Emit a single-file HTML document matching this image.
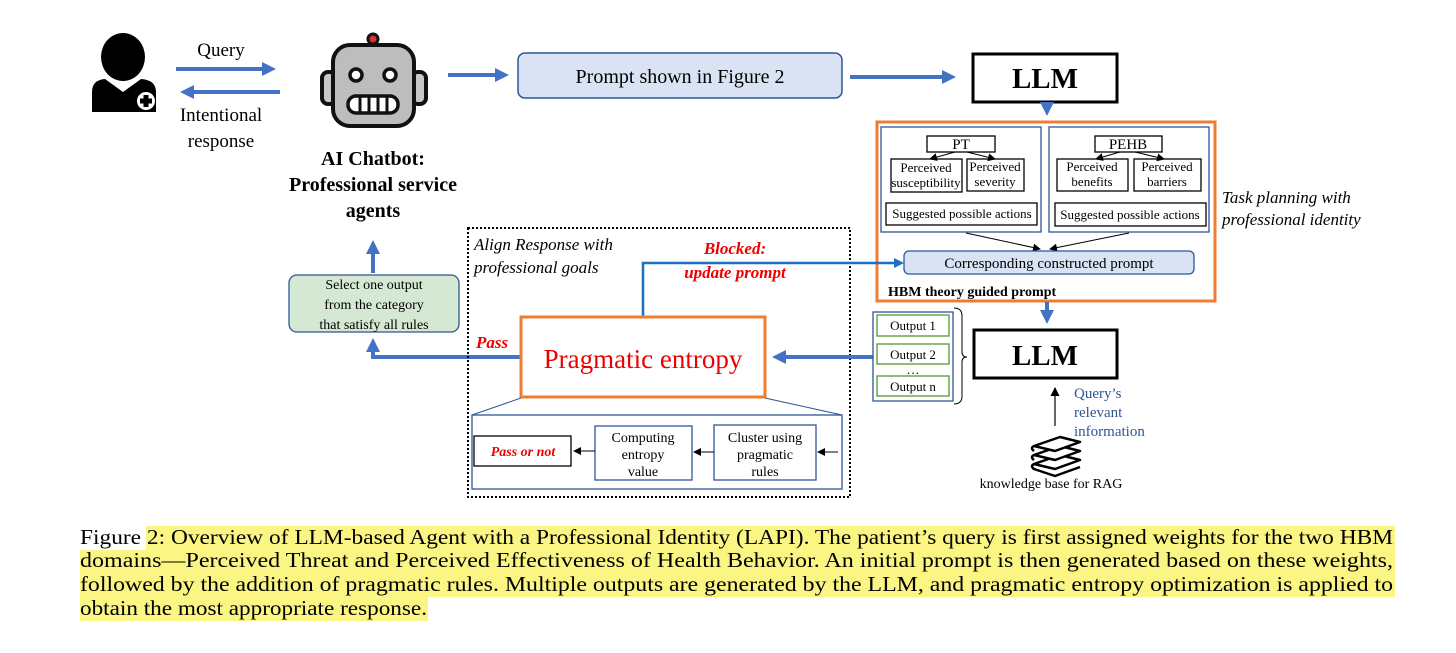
<!DOCTYPE html>
<html><head><meta charset="utf-8"><style>
html,body{margin:0;padding:0;background:#fff;}
svg{display:block;font-family:"Liberation Serif","Times New Roman",Times,serif;}
svg text{font-family:"Liberation Serif","Times New Roman",Times,serif;}
</style></head><body>
<svg width="1456" height="653" viewBox="0 0 1456 653" xmlns="http://www.w3.org/2000/svg" font-family="Liberation Serif, Times New Roman, serif">
<defs>
<marker id="bh" markerWidth="3.5" markerHeight="3.5" refX="2.5" refY="1.75" orient="auto" markerUnits="strokeWidth"><path d="M0,0 L3.5,1.75 L0,3.5 z" fill="#4472c4"/></marker>
<marker id="kh" markerWidth="8" markerHeight="8" refX="7" refY="4" orient="auto" markerUnits="userSpaceOnUse"><path d="M0,0 L8,4 L0,8 z" fill="#000"/></marker>
<marker id="gh" markerWidth="9" markerHeight="9" refX="8" refY="4.5" orient="auto" markerUnits="userSpaceOnUse"><path d="M0,0 L9,4.5 L0,9 z" fill="#000"/></marker>
</defs>

<!-- person -->
<g fill="#000">
<ellipse cx="123" cy="57" rx="22" ry="24"/>
<path d="M92,112 L92,92 Q92,80 105,79 L123,92 L141,79 Q156,80 156,92 L156,112 Z"/>
<circle cx="146" cy="101" r="9" fill="#fff"/>
<rect x="143.5" y="95" width="5" height="12" fill="#000"/><rect x="140" y="98.5" width="12" height="5" fill="#000"/>
</g>
<text x="221" y="56" font-size="19" text-anchor="middle">Query</text>
<line x1="176" y1="69" x2="272" y2="69" stroke="#4472c4" stroke-width="4" marker-end="url(#bh)"/>
<line x1="280" y1="92" x2="184" y2="92" stroke="#4472c4" stroke-width="4" marker-end="url(#bh)"/>
<text x="221" y="121" font-size="19" text-anchor="middle">Intentional</text>
<text x="221" y="147" font-size="19" text-anchor="middle">response</text>

<!-- robot -->
<g stroke="#111" stroke-width="4">
<circle cx="373" cy="39" r="5" fill="#d9342b" stroke-width="3"/>
<rect x="322" y="72" width="14" height="32" rx="6" fill="#c8c8c8"/>
<rect x="412" y="72" width="14" height="32" rx="6" fill="#c8c8c8"/>
<rect x="333" y="45" width="81" height="81" rx="17" fill="#bdbdbd"/>
<circle cx="356" cy="75" r="6" fill="#fff" stroke-width="3.5"/>
<circle cx="390" cy="75" r="6" fill="#fff" stroke-width="3.5"/>
<rect x="348" y="96" width="50" height="17" rx="8" fill="#fff" stroke-width="3.5"/>
</g>
<g stroke="#111" stroke-width="3"><line x1="360" y1="97" x2="360" y2="112"/><line x1="369" y1="97" x2="369" y2="112"/><line x1="378" y1="97" x2="378" y2="112"/><line x1="387" y1="97" x2="387" y2="112"/></g>
<text x="373" y="165" font-size="20" font-weight="bold" text-anchor="middle">AI Chatbot:</text>
<text x="373" y="191" font-size="20" font-weight="bold" text-anchor="middle">Professional service</text>
<text x="373" y="217" font-size="20" font-weight="bold" text-anchor="middle">agents</text>

<line x1="448" y1="75" x2="505" y2="75" stroke="#4472c4" stroke-width="4" marker-end="url(#bh)"/>
<rect x="518" y="53" width="324" height="45" rx="7" fill="#dae3f3" stroke="#2f5597" stroke-width="1.5"/>
<text x="680" y="83" font-size="20" text-anchor="middle">Prompt shown in Figure 2</text>
<line x1="850" y1="77" x2="952" y2="77" stroke="#4472c4" stroke-width="4" marker-end="url(#bh)"/>
<rect x="973" y="54" width="144" height="48" fill="#fff" stroke="#000" stroke-width="3"/>
<text x="1045" y="88" font-size="29" font-weight="bold" text-anchor="middle">LLM</text>
<line x1="1047" y1="103" x2="1047" y2="112" stroke="#4472c4" stroke-width="4" marker-end="url(#bh)"/>

<!-- HBM orange box -->
<rect x="877" y="122" width="338" height="179" fill="#fff" stroke="#ed7d31" stroke-width="3"/>
<rect x="881" y="127" width="160" height="105" fill="#fff" stroke="#2f5597" stroke-width="1.3"/>
<rect x="1049" y="127" width="160" height="105" fill="#fff" stroke="#2f5597" stroke-width="1.3"/>
<g fill="#fff" stroke="#000" stroke-width="1.3">
<rect x="927" y="136" width="68" height="16"/><rect x="891" y="159" width="71" height="33"/><rect x="967" y="159" width="57" height="32"/><rect x="886" y="203" width="151" height="22"/>
<rect x="1095" y="136" width="67" height="16"/><rect x="1057" y="159" width="71" height="32"/><rect x="1134" y="159" width="67" height="32"/><rect x="1055" y="203" width="151" height="23"/>
</g>
<g stroke="#000" stroke-width="1">
<line x1="955" y1="152" x2="930" y2="159" marker-end="url(#kh)"/><line x1="967" y1="152" x2="995" y2="159" marker-end="url(#kh)"/>
<line x1="1120" y1="152" x2="1096" y2="159" marker-end="url(#kh)"/><line x1="1135" y1="152" x2="1164" y2="159" marker-end="url(#kh)"/>
<line x1="966" y1="233" x2="1040" y2="249" marker-end="url(#kh)"/><line x1="1129" y1="233" x2="1050" y2="249" marker-end="url(#kh)"/>
</g>
<g font-size="13" text-anchor="middle">
<text x="961" y="149" font-size="15">PT</text><text x="1128" y="149" font-size="15">PEHB</text>
<text x="926" y="172">Perceived</text><text x="926" y="187">susceptibility</text>
<text x="995" y="171">Perceived</text><text x="995" y="186">severity</text>
<text x="1092" y="171">Perceived</text><text x="1092" y="186">benefits</text>
<text x="1167" y="171">Perceived</text><text x="1167" y="186">barriers</text>
<text x="962" y="218">Suggested  possible actions</text>
<text x="1130" y="219">Suggested  possible actions</text>
</g>
<rect x="904" y="251" width="290" height="23" rx="5" fill="#dae3f3" stroke="#2f5597" stroke-width="1.3"/>
<text x="1049" y="268" font-size="15" text-anchor="middle">Corresponding constructed prompt</text>
<text x="888" y="296" font-size="14" font-weight="bold">HBM theory guided prompt</text>
<text x="1222" y="203" font-size="17" font-style="italic">Task planning with</text>
<text x="1222" y="225" font-size="17" font-style="italic">professional identity</text>

<!-- select box -->
<rect x="289" y="275" width="170" height="57" rx="8" fill="#d5e8d4" stroke="#2f5597" stroke-width="1.3"/>
<g font-size="14" text-anchor="middle"><text x="374" y="289">Select one output</text><text x="374" y="309">from the category</text><text x="374" y="329">that satisfy all rules</text></g>
<line x1="373" y1="273" x2="373" y2="244" stroke="#4472c4" stroke-width="4" marker-end="url(#bh)"/>
<polyline points="520,357 373,357 373,342" fill="none" stroke="#4472c4" stroke-width="4" marker-end="url(#bh)"/>

<!-- dotted align box -->
<rect x="468" y="228" width="382" height="269" fill="none" stroke="#000" stroke-width="2" stroke-dasharray="2,2"/>
<text x="474" y="250" font-size="17" font-style="italic">Align Response with</text>
<text x="474" y="273" font-size="17" font-style="italic">professional goals</text>
<polyline points="643,316 643,263 895,263" fill="none" stroke="#1f6fc0" stroke-width="2.5"/>
<path d="M894,258 L904,263 L894,268 z" fill="#1f6fc0"/>
<text x="735" y="254" font-size="17" font-weight="bold" font-style="italic" fill="#e00" text-anchor="middle">Blocked:</text>
<text x="735" y="278" font-size="17" font-weight="bold" font-style="italic" fill="#e00" text-anchor="middle">update prompt</text>
<text x="476" y="348" font-size="17" font-weight="bold" font-style="italic" fill="#e00">Pass</text>
<rect x="521" y="317" width="244" height="80" fill="#fff" stroke="#ed7d31" stroke-width="3"/>
<text x="643" y="368" font-size="27" fill="#e00" text-anchor="middle">Pragmatic entropy</text>
<line x1="875" y1="357" x2="776" y2="357" stroke="#4472c4" stroke-width="4" marker-end="url(#bh)"/>
<line x1="521" y1="398" x2="472" y2="415" stroke="#2f5597" stroke-width="1"/>
<line x1="765" y1="398" x2="842" y2="415" stroke="#2f5597" stroke-width="1"/>
<rect x="472" y="415" width="370" height="74" fill="#fff" stroke="#2f5597" stroke-width="1.3"/>
<rect x="474" y="436" width="97" height="30" fill="#fff" stroke="#000" stroke-width="1.3"/>
<text x="523" y="456" font-size="14" font-weight="bold" font-style="italic" fill="#e00" text-anchor="middle">Pass or not</text>
<rect x="595" y="426" width="97" height="54" fill="#fff" stroke="#2f5597" stroke-width="1.3"/>
<rect x="714" y="425" width="102" height="55" fill="#fff" stroke="#2f5597" stroke-width="1.3"/>
<g font-size="14" text-anchor="middle"><text x="643" y="442">Computing</text><text x="643" y="459">entropy</text><text x="643" y="476">value</text>
<text x="765" y="442">Cluster using</text><text x="765" y="459">pragmatic</text><text x="765" y="476">rules</text></g>
<g stroke="#000" stroke-width="1"><line x1="595" y1="451" x2="574" y2="451" marker-end="url(#kh)"/><line x1="714" y1="452" x2="694" y2="452" marker-end="url(#kh)"/><line x1="838" y1="452" x2="818" y2="452" marker-end="url(#kh)"/></g>

<!-- outputs -->
<rect x="873" y="312" width="80" height="89" fill="#fff" stroke="#2f5597" stroke-width="1.3"/>
<g fill="#fff" stroke="#4e9a33" stroke-width="1.3"><rect x="877" y="315" width="72" height="21"/><rect x="877" y="344" width="72" height="20"/><rect x="877" y="376" width="72" height="20"/></g>
<g font-size="13" text-anchor="middle"><text x="913" y="330">Output 1</text><text x="913" y="359">Output 2</text><text x="913" y="391">Output n</text><text x="913" y="374">…</text></g>
<path d="M954,308 Q962,308 962,316 L962,352 Q962,357 967,357 Q962,357 962,362 L962,396 Q962,404 954,404" fill="none" stroke="#000" stroke-width="1"/>
<line x1="1047" y1="302" x2="1047" y2="320" stroke="#4472c4" stroke-width="4" marker-end="url(#bh)"/>
<rect x="974" y="330" width="143" height="48" fill="#fff" stroke="#000" stroke-width="3"/>
<text x="1045" y="365" font-size="29" font-weight="bold" text-anchor="middle">LLM</text>
<line x1="1055" y1="426" x2="1055" y2="388" stroke="#333" stroke-width="1.5" marker-end="url(#gh)"/>
<g font-size="15" fill="#2f5597"><text x="1074" y="398">Query’s</text><text x="1074" y="417">relevant</text><text x="1074" y="436">information</text></g>
<!-- books -->
<g fill="#fff" stroke="#000" stroke-width="2.5" stroke-linejoin="round">
<path d="M1034,464 L1060,455 L1080,460 L1055,469 Z M1034,464 Q1030,466 1034,469 L1055,476 L1080,467"/>
<path d="M1034,455 L1060,446 L1080,451 L1055,460 Z M1034,455 Q1030,457 1034,460"/>
<path d="M1034,446 L1060,437 L1080,442 L1055,451 Z M1034,446 Q1030,448 1034,451"/>
</g>
<text x="1051" y="488" font-size="14" text-anchor="middle">knowledge base for RAG</text>

<!-- caption -->
<g fill="#fbf584">
<rect x="146" y="526" width="1249" height="24"/>
<rect x="80" y="550" width="1315" height="23"/>
<rect x="80" y="573" width="1315" height="24"/>
<rect x="80" y="597" width="348" height="24"/>
</g>
<g font-size="21">
<text x="80" y="544" textLength="1313" lengthAdjust="spacingAndGlyphs">Figure 2: Overview of LLM-based Agent with a Professional Identity (LAPI). The patient’s query is first assigned weights for the two HBM</text>
<text x="80" y="567" textLength="1313" lengthAdjust="spacingAndGlyphs">domains—Perceived Threat and Perceived Effectiveness of Health Behavior.  An initial prompt is then generated based on these weights,</text>
<text x="80" y="591" textLength="1313" lengthAdjust="spacingAndGlyphs">followed by the addition of pragmatic rules.  Multiple outputs are generated by the LLM, and pragmatic entropy optimization is applied to</text>
<text x="80" y="615" textLength="347" lengthAdjust="spacingAndGlyphs">obtain the most appropriate response.</text>
</g>
</svg>
</body></html>
